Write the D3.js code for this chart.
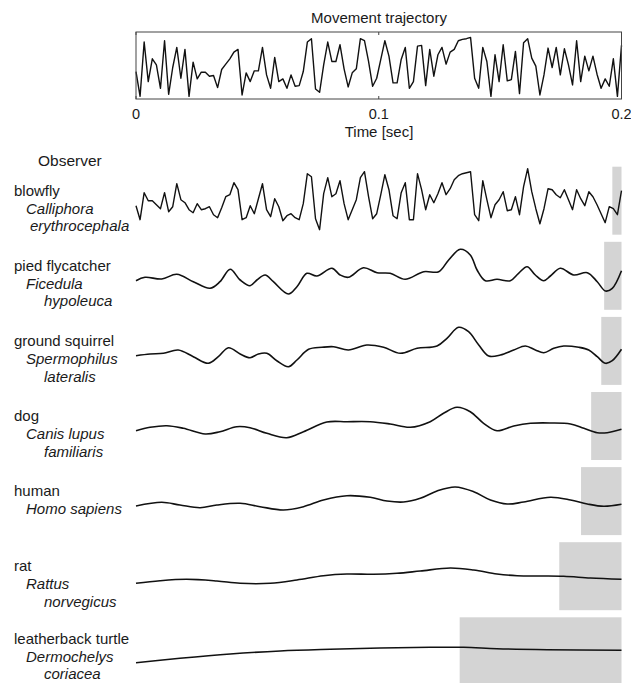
<!DOCTYPE html>
<html>
<head>
<meta charset="utf-8">
<script src="https://cdn.jsdelivr.net/npm/d3@7"></script>
<style>
  html, body { margin: 0; padding: 0; background: #fff; }
  svg { display: block; }
  text { font-family: "Liberation Sans", Arial, Helvetica, sans-serif; fill: #1a1a1a; }
</style>
</head>
<body>
<svg id="chart" width="631" height="683"></svg>
<script>
// ---------------- DATA ----------------
// Movement trajectory (position, 0 = bottom of panel, 100 = top), 120 uniform samples over 0–0.2 s
const trajectory = [
  41,4,85,26,60,51,16,87,7,47,77,31,74,4,55,30,40,40,34,35,17,44,52,60,70,74,6,39,26,42,42,
  77,36,16,62,26,30,16,36,19,20,41,85,90,15,10,51,85,56,56,81,45,18,39,45,90,87,56,19,
  31,59,87,64,24,24,59,77,16,26,79,80,20,74,34,66,77,52,70,74,87,89,90,92,31,16,77,56,4,
  66,26,81,27,29,71,8,84,90,61,49,6,36,76,47,77,36,75,51,21,87,26,64,42,64,37,16,30,19,60,4,80
];

// Perceived trajectory for the blowfly (response, + up), same 120 samples
const blowflyResponse = [
  -5,-19,8,0,0,-4,-8,8,-11,-6,17,1,-2,-9,-12,-3,-9,-8,-6,-14,-17,-7,4,6,18,11,-19,-17,-5,-13,
  2,17,-9,-16,2,-6,-20,-15,-13,-17,-19,-3,27,24,-18,-29,7,23,4,7,20,-3,-19,-9,1,23,29,4,-18,-13,
  6,26,11,-15,-18,8,18,-19,-19,27,11,-9,6,-2,7,18,6,12,21,25,27,28,29,-14,-20,20,1,-17,-4,1,
  9,-10,-9,4,-14,14,32,9,-8,-23,-8,12,11,6,3,11,1,-9,11,2,-5,9,4,-4,-13,-22,-6,-8,-14,10
];

// Smoothed perceived trajectories (time in ms, response + up)
const flycatcherTime = [0,3.7,10.6,16.8,23.6,30.5,34.6,38.8,42.9,47,49.8,53.2,56.6,62.8,66.3,70.4,74.5,80.7,84.1,87.5,93.7,99.3,104.7,110.9,118.5,124.7,128.8,133.6,137.7,140.5,143.9,148.7,154.2,157.6,161.1,164.5,168,170.7,174.8,180.3,185.9,190,193.4,196.2,200];
const flycatcherResponse = [-4.9,-1.5,-3.2,1.5,-5.9,-12.5,-5.9,6.5,-4.2,-9.9,-4.2,0.8,-5.9,-18.2,-10.9,2.5,-0.2,7.5,0.8,-1.5,8.1,3.1,2.5,-3.5,4.1,4.1,15.8,26.5,20.8,5.8,-4.9,-3.5,-4.9,2.5,9.1,0.8,-4.9,-0.2,7.5,0.8,3.1,-5.9,-15.2,-12.5,5.1];

const squirrelTime = [0,5.8,11.3,17.4,23.6,29.8,33.9,38.1,42.9,47,50.4,53.9,58,62.8,66.3,71.1,76.6,81.4,87.5,95.1,102,108.9,115.8,124,128.1,132.9,137,141.2,145.3,150.1,155.6,160.4,164.5,168,172.1,176.2,182.4,186.5,190,193.4,196.2,200];
const squirrelResponse = [-4.8,-3.1,-2.4,0.9,-5.8,-12.4,-5.8,3.2,-3.1,-6.8,-3.1,-2.4,-9.8,-15.8,-9.1,1.6,3.6,4.2,0.9,5.9,3.6,-2.4,2.6,4.9,12.6,23.6,19.2,5.9,-5.1,-4.1,0.9,4.9,0.9,-1.8,2.6,4.9,3.6,0.9,-5.8,-12.4,-9.8,1.6];

const dogTime = [0,5.8,12.7,19.5,28.5,34.6,41.5,47,53.9,62.1,69,78.6,86.9,96.5,104.7,113,121.2,126.7,132.2,137.7,143.2,148.7,155.6,162.5,170.7,179,184.5,190,194.1,200];
const dogResponse = [-4.7,-1.3,0.3,-2.3,-8,-5.7,-0.7,-1.7,-7.3,-11.7,-5.7,4,4.3,4.3,2,-1.3,4.3,12.7,18.7,14.3,2.7,-4.7,0,2.7,3,2,-2.3,-6.7,-6.7,-3.3];

const humanTime = [0,10.6,18.1,26.4,33.3,42.9,51.1,60.7,69,77.2,86.9,96.5,103.4,110.2,117.1,124,131.5,139.1,146,152.9,159.7,170.7,179,185.9,192.7,200];
const humanResponse = [-4.9,-1.2,-3.9,-6.6,-3.9,-2.2,-5.6,-8.9,-5.6,1.1,5.4,3.8,0.1,-0.9,2.8,10.1,14.1,9.4,1.1,-2.9,-0.9,3.8,1.1,-2.9,-5.2,-3.2];

const ratTime = [0,9.9,20.9,33.3,42.9,55.3,66.3,77.2,86.9,97.9,107.5,117.1,129.5,139.1,148.7,157,166.6,176.2,187.2,200];
const ratResponse = [-7.1,-4.5,-3.1,-4.8,-7.1,-7.1,-3.8,0.5,2.2,1.9,2.9,5.2,8.2,6.2,2.2,0.5,0.2,-0.1,-1.8,-3.1];

const turtleTime = [0,18.1,38.8,59.4,80,100.6,121.2,135,148.7,169.4,200];
const turtleResponse = [-11.4,-7,-2.7,0.3,2,3.3,4,4,2.6,1.6,1];

// Observers
const commonNames = ["blowfly","pied flycatcher","ground squirrel","dog","human","rat","leatherback turtle"];
const genusNames = ["Calliphora","Ficedula","Spermophilus","Canis lupus","Homo sapiens","Rattus","Dermochelys"];
const speciesNames = ["erythrocephala","hypoleuca","lateralis","familiaris","","norvegicus","coriacea"];
// Critical flicker fusion frequency (Hz) -> width of grey window (1/CFF)
const cffHz = [265, 140, 120, 80, 60, 39, 15];

const xTicks = [0, 0.1, 0.2];
const xTickLabels = ["0", "0.1", "0.2"];

// ---------------- LAYOUT ----------------
const svg = d3.select("#chart");
const x = d3.scaleLinear().domain([0, 0.2]).range([136, 621.5]);

// Top panel
const panelTop = 32, panelBottom = 99;
const yTraj = d3.scaleLinear().domain([0, 100]).range([panelBottom, panelTop]);
const dt = 0.2 / (trajectory.length - 1);

svg.append("text")
  .attr("x", 379).attr("y", 23)
  .attr("text-anchor", "middle")
  .style("font-size", "15px")
  .text("Movement trajectory");

svg.append("path")
  .datum(trajectory)
  .attr("fill", "none")
  .attr("stroke", "#111")
  .attr("stroke-width", 1.4)
  .attr("stroke-linejoin", "round")
  .attr("d", d3.line().x((d, i) => x(i * dt)).y(d => yTraj(d)));

svg.append("rect")
  .attr("x", x(0)).attr("y", panelTop)
  .attr("width", x(0.2) - x(0)).attr("height", panelBottom - panelTop)
  .attr("fill", "none").attr("stroke", "#444").attr("stroke-width", 1);

// inward ticks top & bottom
xTicks.forEach(t => {
  svg.append("line").attr("x1", x(t)).attr("x2", x(t))
    .attr("y1", panelBottom).attr("y2", panelBottom - 3)
    .attr("stroke", "#444").attr("stroke-width", 1);
  svg.append("line").attr("x1", x(t)).attr("x2", x(t))
    .attr("y1", panelTop).attr("y2", panelTop + 3)
    .attr("stroke", "#444").attr("stroke-width", 1);
});

svg.selectAll("text.tick").data(xTicks).enter().append("text")
  .attr("class", "tick")
  .attr("x", d => x(d)).attr("y", 119)
  .attr("text-anchor", "middle")
  .style("font-size", "14.5px")
  .text((d, i) => xTickLabels[i]);

svg.append("text")
  .attr("x", 379).attr("y", 137)
  .attr("text-anchor", "middle")
  .style("font-size", "15px")
  .text("Time [sec]");

// Observer header
svg.append("text")
  .attr("x", 38).attr("y", 166)
  .style("font-size", "15.5px")
  .text("Observer");

// Rows
const rowCenter0 = 200.7, rowStep = 75.1, halfH = 34;
const seriesTimes = [null, flycatcherTime, squirrelTime, dogTime, humanTime, ratTime, turtleTime];
const seriesVals = [blowflyResponse, flycatcherResponse, squirrelResponse, dogResponse, humanResponse, ratResponse, turtleResponse];

commonNames.forEach((name, r) => {
  const c = rowCenter0 + r * rowStep;
  const y = d3.scaleLinear().domain([-halfH, halfH]).range([c + halfH, c - halfH]);

  // grey window
  const w = 1 / cffHz[r];
  svg.append("rect")
    .attr("x", x(0.2 - w)).attr("y", y(halfH))
    .attr("width", x(0.2) - x(0.2 - w))
    .attr("height", y(-halfH) - y(halfH))
    .attr("fill", "#d4d4d4");

  // response trace
  let pts;
  if (r === 0) {
    pts = seriesVals[0].map((v, i) => [i * dt, v]);
  } else {
    pts = seriesTimes[r].map((t, i) => [t / 1000, seriesVals[r][i]]);
  }
  const line = d3.line()
    .x(d => x(d[0])).y(d => y(d[1]))
    .curve(r === 0 ? d3.curveLinear : d3.curveCatmullRom.alpha(0.5));
  svg.append("path")
    .datum(pts)
    .attr("fill", "none")
    .attr("stroke", "#111")
    .attr("stroke-width", r === 0 ? 1.4 : 1.6)
    .attr("stroke-linejoin", "round")
    .attr("d", line);

  // labels (last row nudged up so it stays inside the picture)
  const base = (r === commonNames.length - 1) ? c - 7.5 : c - 5;
  const lh = 17.8;
  svg.append("text").attr("x", 14).attr("y", base)
    .style("font-size", "15px").text(name);
  svg.append("text").attr("x", 26).attr("y", base + lh)
    .style("font-size", "15px").style("font-style", "italic").text(genusNames[r]);
  if (speciesNames[r]) {
    svg.append("text").attr("x", r === 0 ? 30 : 44).attr("y", base + 2 * lh)
      .style("font-size", "15px").style("font-style", "italic").text(speciesNames[r]);
  }
});
</script>
</body>
</html>
